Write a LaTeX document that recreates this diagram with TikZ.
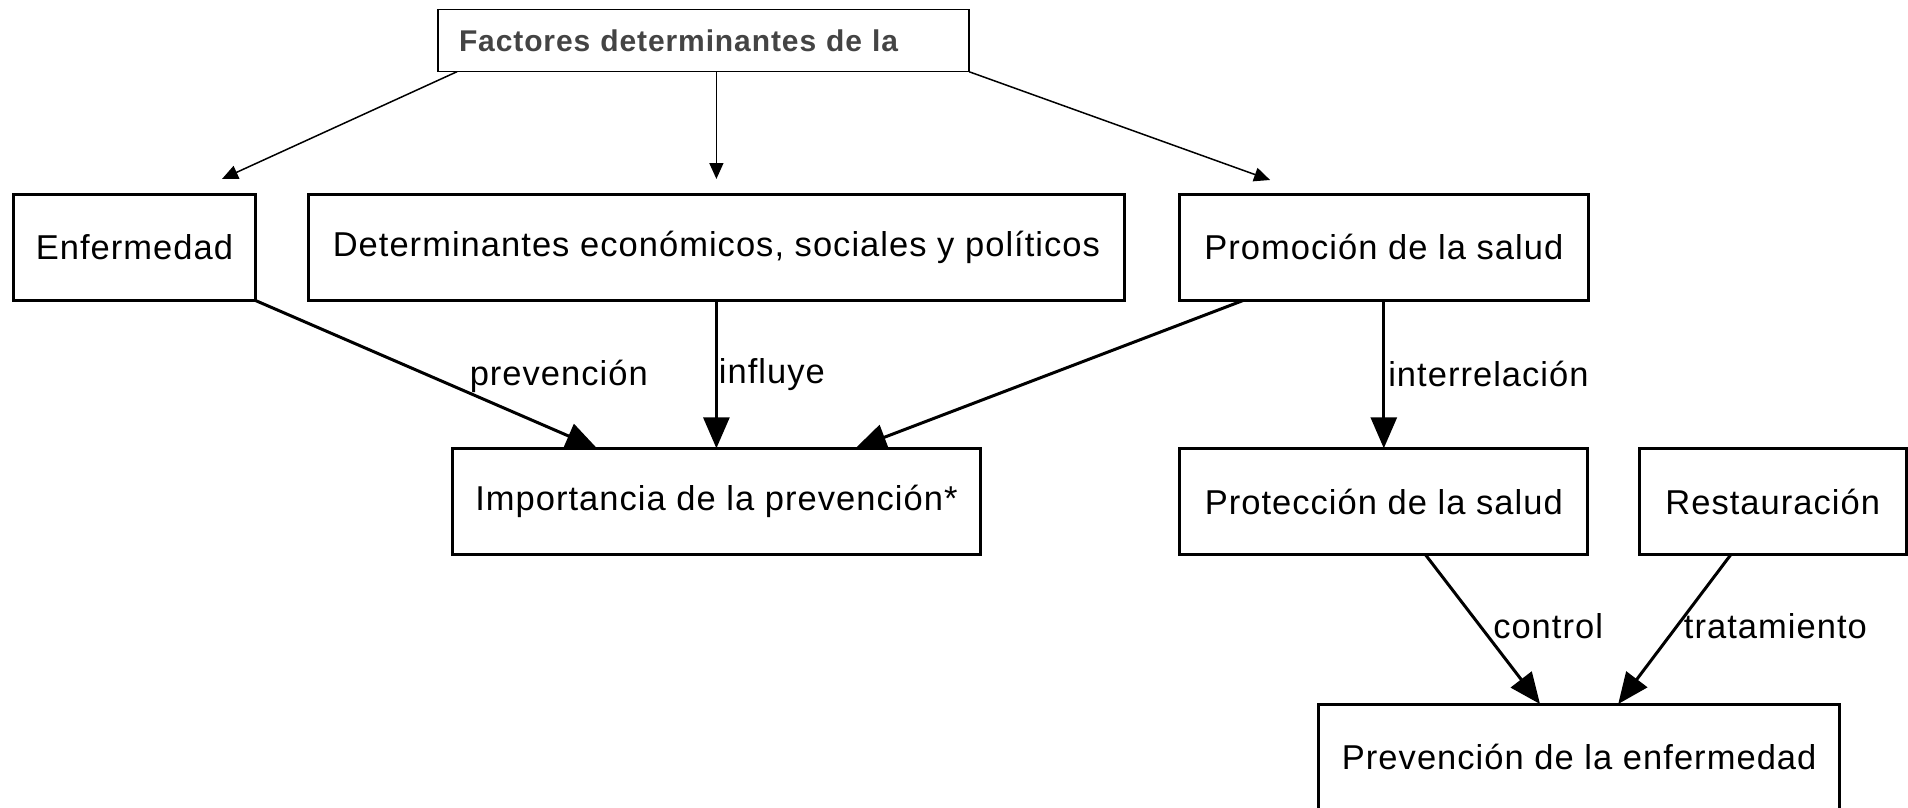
\documentclass[tikz,border=0pt]{standalone}
\usepackage{fontspec}
\setmainfont{Liberation Sans}[LetterSpace=3]
\usepackage{tikz}
\usetikzlibrary{arrows}
\usetikzlibrary{arrows.meta}
\usetikzlibrary{positioning}
\definecolor{topgray}{HTML}{444444}

\begin{document}
\begin{tikzpicture}[x=1pt,y=-1pt]

			\tikzset{BoxStyle/.style = {shape          = rectangle,
					draw, line width = 3pt,
					outer sep = 0pt, inner sep = 0pt,
					minimum height   = 106.5pt,
					font = \fontsize{34.5}{40}\selectfont}}

			\tikzset{TopStyle/.style = {shape          = rectangle,
					draw, line width = 1.5pt,
					outer sep = 0pt, inner xsep = 21pt, inner ysep = 0pt,
					minimum height   = 62.4pt,
					text width = 489pt, align = left, text = topgray,
					font = \fontsize{30}{36}\selectfont\bfseries}}

			\tikzset{EdgeStyle/.style   = {line width = 3pt, -{Triangle[length=31pt,width=26pt]}}}
			\tikzset{ThinEdgeStyle/.style   = {line width = 1.5pt, -{Triangle[length=16pt,width=14pt]}}}
			\tikzset{LabelStyle/.style   = {anchor = west, inner sep = 0pt,
					font = \fontsize{34.5}{40}\selectfont}}

			\useasboundingbox (0,0) rectangle (1908,808);

			\node[TopStyle](fact) at (703.5,40.5){Factores determinantes de la};
			\node[BoxStyle,minimum width = 242pt](enf) at (134.5,247.25){Enfermedad};
			\node[BoxStyle,minimum width = 816pt,right= 52.9pt of enf](det){Determinantes económicos, sociales y políticos};
			\node[BoxStyle,minimum width = 409.4pt,right= 54.7pt of det](prom){Promoción de la salud};
			\node[BoxStyle,minimum width = 528pt,below= 147.8pt of det](imp){Importancia de la prevención*};
			\node[BoxStyle,minimum width = 408pt,below= 147.8pt of prom](prot){Protección de la salud};
			\node[BoxStyle,minimum width = 266.6pt,right= 51.6pt of prot](rest){Restauración};
			\node[BoxStyle,minimum width = 521pt](prevE) at (1579.2,757.25){Prevención de la enfermedad};

			\draw[ThinEdgeStyle]([xshift=19pt]fact.south west) to ([xshift=87.5pt,yshift=15pt]enf.north);
			\draw[ThinEdgeStyle](fact.south -| det.north) to ([yshift=15pt]det.north);
			\draw[ThinEdgeStyle](fact.south east) to ([xshift=-113.7pt,yshift=14pt]prom.north);

			\draw[EdgeStyle](enf.south east) to node[LabelStyle,xshift=42pt,yshift=-1.5pt]{prevención}([xshift=-119.4pt]imp.north);
			\draw[EdgeStyle](det.south) to node[LabelStyle,xshift=1pt]{influye}(imp.north);
			\draw[EdgeStyle]([xshift=64pt]prom.south west) to ([xshift=139pt]imp.north);
			\draw[EdgeStyle](prom.south) to node[LabelStyle,xshift=3pt]{interrelación}(prot.north);
			\draw[EdgeStyle]([xshift=41.7pt]prot.south) to node[LabelStyle,xshift=9pt,yshift=3pt]{control}([xshift=-39.2pt]prevE.north);
			\draw[EdgeStyle]([xshift=-42pt]rest.south) to node[LabelStyle,xshift=8pt,yshift=3pt]{tratamiento}([xshift=39pt]prevE.north);
\end{tikzpicture}
\end{document}
